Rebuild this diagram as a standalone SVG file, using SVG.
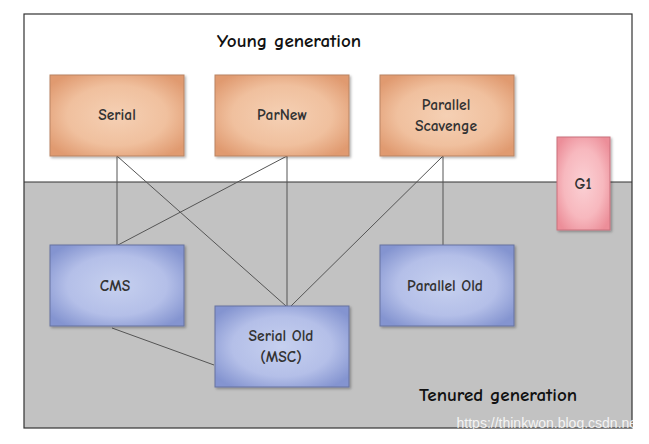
<svg xmlns="http://www.w3.org/2000/svg" width="649" height="444" viewBox="0 0 649 444">
<defs>
<radialGradient id="gOrange" cx="50%" cy="50%" r="62%">
<stop offset="0" stop-color="#f5d0b4"/><stop offset="0.6" stop-color="#f0c09e"/><stop offset="1" stop-color="#e09a70"/>
</radialGradient>
<radialGradient id="gBlue" cx="50%" cy="50%" r="62%">
<stop offset="0" stop-color="#c6d0ef"/><stop offset="0.6" stop-color="#b4bfe8"/><stop offset="1" stop-color="#8494d0"/>
</radialGradient>
<radialGradient id="gPink" cx="50%" cy="50%" r="62%">
<stop offset="0" stop-color="#fbd0d4"/><stop offset="0.6" stop-color="#f7b8be"/><stop offset="1" stop-color="#ec8e99"/>
</radialGradient>
<filter id="sh" x="-10%" y="-10%" width="125%" height="125%">
<feDropShadow dx="1.5" dy="1.5" stdDeviation="1" flood-color="#000" flood-opacity="0.3"/>
</filter>
<style>
.lbl{font-family:"Comic Neue","Liberation Sans","DejaVu Sans",sans-serif;font-size:15.5px;font-weight:bold;fill:#333;text-anchor:middle}
.title{font-family:"Comic Neue","Liberation Sans","DejaVu Sans",sans-serif;font-size:19px;font-weight:bold;fill:#111;text-anchor:middle}
.young{fill:url(#gOrange);stroke:#b98462;stroke-width:1;filter:url(#sh)}
.old{fill:url(#gBlue);stroke:#66739f;stroke-width:1;filter:url(#sh)}
.g1{fill:url(#gPink);stroke:#c9707d;stroke-width:1;filter:url(#sh)}
.conn line{stroke:#555;stroke-width:1}
</style>
</defs>
<rect x="0" y="0" width="649" height="444" fill="#ffffff"/>
<g id="background">
<rect x="24" y="182" width="608" height="246" fill="#c2c2c2"/>
<rect x="24" y="14" width="608" height="414" fill="none" stroke="#333" stroke-width="1.2"/>
<line x1="24" y1="182" x2="632" y2="182" stroke="#333" stroke-width="1.2"/>
<text class="title" x="289" y="47">Young generation</text>
<text class="title" x="498" y="401">Tenured generation</text>
</g>
<g class="conn" id="connectors">
<line x1="117" y1="156" x2="117" y2="245"/>
<line x1="117" y1="156" x2="286" y2="306"/>
<line x1="287" y1="156" x2="287" y2="306"/>
<line x1="287" y1="156" x2="118" y2="245"/>
<line x1="443" y1="156" x2="443" y2="245"/>
<line x1="443" y1="156" x2="291" y2="306"/>
<line x1="112" y1="328" x2="214" y2="365"/>
</g>
<g id="serial"><rect class="young" x="50" y="75" width="134" height="81"/><text class="lbl" x="117" y="120">Serial</text></g>
<g id="parnew"><rect class="young" x="215" y="75" width="134" height="81"/><text class="lbl" x="282" y="120">ParNew</text></g>
<g id="parallel-scavenge"><rect class="young" x="380" y="75" width="134" height="81"/><text class="lbl" x="446" y="110">Parallel</text><text class="lbl" x="446" y="131">Scavenge</text></g>
<g id="g1"><rect class="g1" x="557" y="137" width="53" height="93"/><text class="lbl" x="583" y="189">G1</text></g>
<g id="cms"><rect class="old" x="50" y="245" width="134" height="81"/><text class="lbl" x="115" y="291">CMS</text></g>
<g id="parallel-old"><rect class="old" x="380" y="245" width="134" height="81"/><text class="lbl" x="445" y="291">Parallel Old</text></g>
<g id="serial-old"><rect class="old" x="215" y="306" width="134" height="81"/><text class="lbl" x="281" y="341">Serial Old</text><text class="lbl" x="281" y="362">(MSC)</text></g>
<text x="641" y="428" text-anchor="end" font-family="Liberation Sans, Arial, sans-serif" font-size="14" fill="#ffffff" fill-opacity="0.85">https://thinkwon.blog.csdn.net</text>
</svg>
